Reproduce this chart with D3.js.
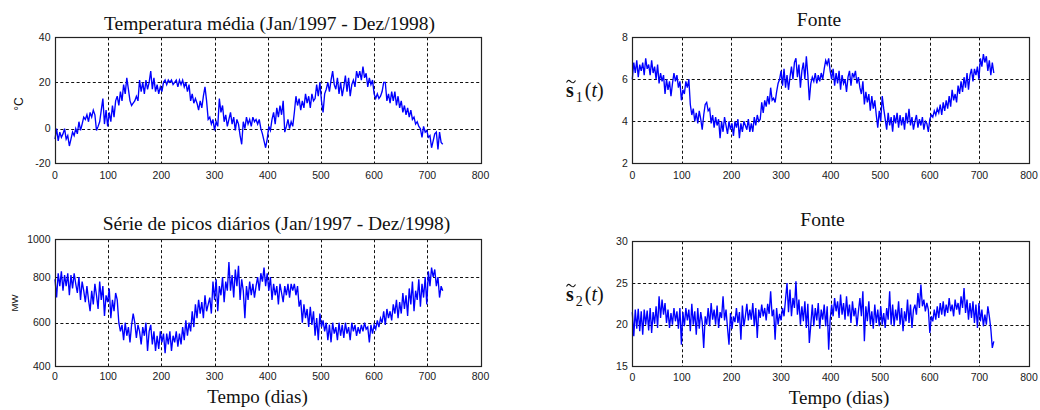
<!DOCTYPE html>
<html>
<head>
<meta charset="utf-8">
<script src="https://cdn.jsdelivr.net/npm/d3@7/dist/d3.min.js"></script>
<style>
  html, body { margin: 0; padding: 0; background: #fff; }
  svg { display: block; }
  .tick-label { font-family: "Liberation Sans", Arial, sans-serif; font-size: 10.5px; fill: #1a1a1a; }
  .title { font-family: "Liberation Serif", "Times New Roman", serif; font-size: 19.5px; fill: #111; }
  .math { font-family: "Liberation Serif", "Times New Roman", serif; fill: #111; }
</style>
</head>
<body>
<svg id="chart" width="1040" height="410"></svg>
<script>
// Daily series, Jan/1997 - Dez/1998, one value every 3 days
const dayStep = 3;

// Mean temperature (°C)
const tempC = [
  -6, 0, -7, -2, -5, -3, 0, -6, -4, -10,
  -6, -2, -4, 0, -3, 3, -1, 2, 5, 4,
  6, 3, 7, 5, 8, 6, -1, 1, 3, 8,
  13, 2, 8, 1, 7, 3, 10, 5, 12, 14,
  10, 16, 12, 19, 15, 22, 17, 12, 10, 11,
  12, 14, 12, 21, 16, 20, 15, 21, 17, 20,
  25, 17, 22, 16, 19, 15, 18, 16, 20, 21,
  19, 21, 20, 21, 19, 20, 21, 18, 21, 19,
  21, 18, 20, 16, 19, 12, 15, 11, 13, 11,
  8, 12, 9, 14, 18, 12, 4, 5, 2, 4,
  -1, 3, 1, 13, 7, 10, 3, 6, 1, 4,
  7, 2, 5, -1, 4, 2, -4, -9, 3, 0,
  5, 2, 4, 1, 5, 3, 4, 2, 4, 0,
  -3, -7, -11, -6, 1, -1, 4, 7, 2, 9,
  5, 10, 6, 12, -2, 1, 4, 0, 3, 1,
  7, 14, 10, 13, 8, 12, 9, 15, 11, 14,
  9, 15, 12, 13, 19, 14, 20, 12, 7, 15,
  17, 20, 16, 21, 25, 19, 17, 22, 15, 20,
  14, 18, 23, 16, 22, 14, 19, 21, 18, 25,
  22, 25, 21, 27, 22, 24, 18, 22, 19, 21,
  15, 13, 15, 13, 14, 16, 20, 20, 12, 15,
  11, 16, 12, 16, 10, 14, 9, 12, 7, 10,
  6, 9, 5, 8, 4, 5, 2, 3, 1, 0,
  -5, 1, -2, -1, -5, -4, -11, -7, -3, -2,
  -12, -2, -8, -9
];

// Source 1
const s1 = [
  6.0, 6.8, 6.3, 6.9, 6.1, 6.7, 6.4, 6.8, 6.2, 7.0,
  6.5, 6.7, 6.2, 6.9, 6.3, 6.6, 6.0, 6.7, 5.8, 6.3,
  5.9, 6.2, 5.3, 6.0, 5.5, 5.9, 5.2, 5.8, 6.3, 5.9,
  6.2, 5.6, 5.9, 5.0, 5.5, 5.3, 5.9, 5.6, 6.0, 4.8,
  4.3, 4.6, 4.0, 4.4, 3.9, 4.5, 4.1, 3.6, 4.3, 4.8,
  4.9, 4.5, 4.6, 3.9, 4.3, 3.7, 4.2, 3.8, 4.1, 3.2,
  4.0, 3.5, 4.2, 3.8, 3.4, 4.0, 3.6, 3.9, 3.3, 4.0,
  3.7, 4.1, 3.2, 3.9, 3.5, 4.0, 3.8, 3.6, 4.1, 3.5,
  3.9, 3.5, 4.2, 3.8, 4.3, 4.0, 4.1, 4.9, 4.4, 5.0,
  4.7, 5.2, 4.8, 5.6, 5.0, 5.1, 4.9, 5.4, 5.8, 6.0,
  6.4, 5.7, 6.5, 5.6, 6.2, 5.5, 6.1, 6.6, 6.0, 6.8,
  7.0, 6.1, 6.7, 5.6, 6.4, 6.8, 6.0, 7.1, 6.2, 5.0,
  5.8, 6.1, 5.9, 6.3, 5.8, 6.2, 5.9, 6.3, 6.0, 6.5,
  6.9, 6.7, 7.0, 6.4, 6.0, 6.5, 5.7, 6.3, 5.8, 6.4,
  5.5, 6.2, 5.8, 6.0, 5.4, 6.1, 6.4, 5.7, 6.3, 6.1,
  6.4, 5.8, 6.1, 5.6, 5.3, 5.9, 4.8, 5.4, 4.9, 5.3,
  4.5, 5.2, 4.6, 5.0, 4.3, 3.7, 4.5, 4.0, 5.2, 4.6,
  4.1, 3.6, 4.4, 3.8, 4.2, 3.5, 4.3, 3.9, 4.4, 3.7,
  4.3, 3.8, 4.2, 3.6, 4.4, 3.9, 4.6, 3.8, 4.2, 3.6,
  4.0, 4.3, 3.7, 4.1, 3.8, 4.2, 3.6, 4.0, 3.9, 3.5,
  4.1, 4.3, 4.2, 4.5, 4.3, 4.6, 4.4, 4.8, 4.3, 4.9,
  4.5, 5.0, 4.6, 5.2, 4.7, 5.5, 5.0, 5.3, 4.9, 5.7,
  5.3, 5.9, 5.4, 6.1, 5.6, 6.3, 5.5, 6.2, 6.5, 5.9,
  6.5, 6.2, 6.6, 6.0, 7.0, 6.6, 7.2, 6.8, 7.1, 6.4,
  6.9, 6.2, 6.8, 6.3
];

// Daily peak load (MW)
const peakMW = [
  790, 710, 820, 760, 830, 740, 810, 760, 820, 720,
  810, 750, 820, 770, 730, 800, 700, 780, 740, 690,
  760, 700, 650, 740, 680, 770, 720, 660, 780, 700,
  760, 630, 720, 690, 750, 620, 700, 650, 730, 700,
  600, 560, 590, 520, 600, 540, 580, 510, 590, 640,
  600, 530, 590, 560, 500, 580, 540, 600, 470, 560,
  590, 500, 560, 470, 540, 480, 560, 510, 550, 460,
  550, 500, 560, 470, 540, 510, 560, 490, 550, 500,
  580, 520, 610, 540, 600, 560, 650, 580, 680, 620,
  700, 640, 690, 620, 720, 650, 680, 710, 640, 780,
  700, 790, 650, 760, 720, 800, 690, 780, 740, 880,
  740, 810, 710, 840, 760, 860, 700, 790, 740, 620,
  760, 700, 780, 720, 770, 710, 760, 800, 740, 820,
  780, 850, 760, 820, 740, 800, 700, 770, 720, 760,
  680, 770, 730, 690, 760, 720, 770, 710, 770, 740,
  770, 720, 760, 670, 700, 600, 680, 620, 660, 580,
  670, 590, 650, 540, 620, 520, 640, 580, 610, 560,
  600, 520, 590, 510, 600, 550, 580, 520, 600, 540,
  590, 530, 600, 550, 580, 520, 600, 560, 590, 540,
  580, 550, 590, 560, 600, 570, 580, 510, 590, 550,
  590, 570, 610, 580, 620, 600, 650, 590, 660, 620,
  650, 610, 680, 640, 700, 620, 690, 640, 730, 660,
  720, 630, 750, 680, 780, 650, 740, 700, 790, 670,
  770, 710, 800, 680, 830, 760, 850, 800, 840, 760,
  800, 710, 760, 740
];

// Source 2
const s2 = [
  21.5, 18.6, 21.8, 19.5, 21.9, 19.2, 21.6, 18.8, 21.8, 20.0,
  21.7, 19.3, 22.0, 19.0, 21.5, 20.1, 22.2, 19.6, 23.4, 20.8,
  23.0, 21.2, 22.6, 20.2, 21.8, 19.6, 21.4, 20.0, 22.0, 20.4,
  21.6, 19.5, 22.0, 17.6, 21.5, 19.8, 22.0, 20.5, 21.8, 19.2,
  22.5, 20.0, 21.6, 18.8, 22.0, 19.5, 21.5, 20.3, 17.2, 21.0,
  20.0, 22.0, 19.8, 22.6, 20.6, 21.8, 20.0, 22.3, 19.6, 21.5,
  20.8, 23.4, 20.5, 21.8, 19.6, 17.6, 21.4, 19.5, 21.0, 20.3,
  22.0, 20.2, 21.5, 18.2, 22.3, 19.8, 21.0, 22.5, 20.5, 21.8,
  20.6, 22.6, 19.8, 22.0, 18.4, 21.8, 20.8, 22.4, 21.0, 22.0,
  20.5, 22.5, 21.3, 24.0, 21.0, 21.8, 18.2, 22.0, 20.0, 21.3,
  20.5, 22.0, 21.0, 23.0, 25.0, 21.5, 24.2, 21.0, 23.2, 22.0,
  25.2, 21.2, 23.0, 20.0, 22.2, 20.4, 22.8, 19.6, 22.5, 17.8,
  20.0, 22.4, 19.8, 22.0, 20.5, 22.6, 19.5, 21.8, 20.6, 22.4,
  19.8, 22.2, 17.0, 20.6, 22.4, 21.0, 23.2, 21.6, 22.8, 20.8,
  23.6, 21.2, 22.6, 20.6, 23.4, 21.0, 22.4, 20.2, 22.8, 21.0,
  22.0, 19.8, 21.6, 23.2, 21.0, 24.0, 18.0, 22.2, 20.4, 22.8,
  20.0, 21.6, 19.5, 22.4, 20.2, 21.8, 19.8, 22.2, 20.0, 21.4,
  19.6, 22.0, 20.6, 24.0, 20.0, 22.4, 19.8, 21.8, 20.5, 22.8,
  20.0, 22.0, 19.2, 21.6, 20.4, 23.0, 20.2, 22.4, 19.6, 21.8,
  22.4, 21.2, 23.8, 22.0, 24.8, 22.2, 23.0, 21.6, 22.6, 21.8,
  19.0, 21.0, 20.4, 21.8, 20.6, 22.2, 20.8, 22.6, 21.2, 22.8,
  21.0, 22.4, 21.4, 23.2, 21.6, 22.4, 21.0, 23.0, 21.8, 22.6,
  21.2, 23.4, 22.0, 24.4, 21.4, 23.0, 20.6, 22.6, 20.8, 22.8,
  20.2, 22.4, 19.6, 22.6, 20.4, 21.8, 19.8, 21.2, 20.0, 22.2,
  21.0, 19.5, 17.2, 18.0
];

// Axis tick values
const dayTicks = [0, 100, 200, 300, 400, 500, 600, 700, 800];
const tempTicks = [-20, 0, 20, 40];
const s1Ticks = [2, 4, 6, 8];
const mwTicks = [400, 600, 800, 1000];
const s2Ticks = [15, 20, 25, 30];

// Text
const titleTemp = "Temperatura média (Jan/1997 - Dez/1998)";
const titlePeak = "Série de picos diários (Jan/1997 - Dez/1998)";
const titleSource = "Fonte";
const xLabel = "Tempo (dias)";

const svg = d3.select("#chart");
svg.append("rect").attr("width", 1040).attr("height", 410).attr("fill", "#fff");

const panels = [
  { values: tempC, ticks: tempTicks, x: [55, 480.5],
    yDomain: [-20, 0, 20, 40], yRange: [163.3, 128.7, 82.3, 37.3],
    title: titleTemp, titleX: 269.5, titleY: 29.5, tickY: 179 },
  { values: s1, ticks: s1Ticks, x: [632.3, 1029],
    yDomain: [2, 8], yRange: [163.3, 37.3],
    title: titleSource, titleX: 819, titleY: 26.2, tickY: 179 },
  { values: peakMW, ticks: mwTicks, x: [55, 480.5],
    yDomain: [400, 600, 800, 1000], yRange: [366.3, 322.7, 277, 239.3],
    title: titlePeak, titleX: 276.5, titleY: 229.5, tickY: 380 },
  { values: s2, ticks: s2Ticks, x: [632.3, 1029],
    yDomain: [15, 30], yRange: [366.3, 241.3],
    title: titleSource, titleX: 822.5, titleY: 226.2, tickY: 381 }
];

panels.forEach(p => {
  const x = d3.scaleLinear().domain([0, 800]).range(p.x);
  const y = d3.scaleLinear().domain(p.yDomain).range(p.yRange);
  const left = p.x[0], right = p.x[1];
  const top = d3.min(p.yRange), bottom = d3.max(p.yRange);
  const g = svg.append("g");

  // dashed grid
  g.selectAll(".gx").data(dayTicks.slice(1, -1)).join("line")
    .attr("x1", d => Math.round(x(d)) + 0.5).attr("x2", d => Math.round(x(d)) + 0.5)
    .attr("y1", top).attr("y2", bottom)
    .attr("stroke", "#111").attr("stroke-width", 1).attr("stroke-dasharray", "3,2.4");
  g.selectAll(".gy").data(p.ticks.slice(1, -1)).join("line")
    .attr("y1", d => Math.round(y(d)) + 0.5).attr("y2", d => Math.round(y(d)) + 0.5)
    .attr("x1", left).attr("x2", right)
    .attr("stroke", "#111").attr("stroke-width", 1).attr("stroke-dasharray", "3,2.4");

  // series
  const line = d3.line()
    .x((d, i) => x(i * dayStep))
    .y(d => y(d));
  g.append("path").datum(p.values)
    .attr("d", line)
    .attr("fill", "none")
    .attr("stroke", "#0000ff")
    .attr("stroke-width", 1.35)
    .attr("stroke-linejoin", "miter");

  // frame
  g.append("rect")
    .attr("x", Math.round(left) + 0.5).attr("y", Math.round(top) + 0.5)
    .attr("width", Math.round(right) - Math.round(left))
    .attr("height", Math.round(bottom) - Math.round(top))
    .attr("fill", "none").attr("stroke", "#222").attr("stroke-width", 1.2);

  // tick labels
  g.selectAll(".xl").data(dayTicks).join("text")
    .attr("class", "tick-label")
    .attr("x", d => x(d)).attr("y", p.tickY)
    .attr("text-anchor", "middle")
    .text(d => d);
  g.selectAll(".yl").data(p.ticks).join("text")
    .attr("class", "tick-label")
    .attr("x", left - 4.5).attr("y", d => y(d))
    .attr("dy", "0.36em")
    .attr("text-anchor", "end")
    .text(d => d);

  // title
  g.append("text").attr("class", "title")
    .attr("x", p.titleX).attr("y", p.titleY)
    .attr("text-anchor", "middle")
    .text(p.title);
});

// y labels, left column
svg.append("text")
  .attr("transform", "translate(23,104) rotate(-90)")
  .attr("text-anchor", "middle")
  .style("font-family", "Liberation Sans, Arial, sans-serif")
  .style("font-size", "12px").attr("fill", "#111")
  .text("°C");
svg.append("text")
  .attr("transform", "translate(18,303) rotate(-90)")
  .attr("text-anchor", "middle")
  .style("font-family", "Liberation Sans, Arial, sans-serif")
  .style("font-size", "9.5px").attr("fill", "#111")
  .text("MW");

// y labels, right column: s~1(t), s~2(t); the tilde is a small drawn wave
const tildeLine = d3.line().curve(d3.curveBasis);
function sourceLabel(yBase, sub) {
  const t = svg.append("text").attr("class", "math")
    .attr("x", 566).attr("y", yBase).style("font-size", "20px");
  t.append("tspan").style("font-weight", "bold").text("s");
  t.append("tspan").attr("dx", 2).attr("dy", 5).style("font-size", "14px").text(sub);
  t.append("tspan").attr("dx", 2).attr("dy", -5).text("(");
  t.append("tspan").style("font-style", "italic").text("t");
  t.append("tspan").text(")");
  const ty = yBase - 16.5;
  svg.append("path")
    .attr("d", tildeLine([[566.5, ty + 2], [568.5, ty - 1], [571, ty + 1.5], [573.5, ty + 3], [575.5, ty]]))
    .attr("fill", "none").attr("stroke", "#111").attr("stroke-width", 1.1);
}
sourceLabel(97, "1");
sourceLabel(301, "2");

// x axis titles
svg.append("text").attr("class", "title")
  .attr("x", 257.5).attr("y", 403).attr("text-anchor", "middle")
  .style("font-size", "19px").text(xLabel);
svg.append("text").attr("class", "title")
  .attr("x", 839).attr("y", 404).attr("text-anchor", "middle")
  .style("font-size", "19px").text(xLabel);
</script>
</body>
</html>
